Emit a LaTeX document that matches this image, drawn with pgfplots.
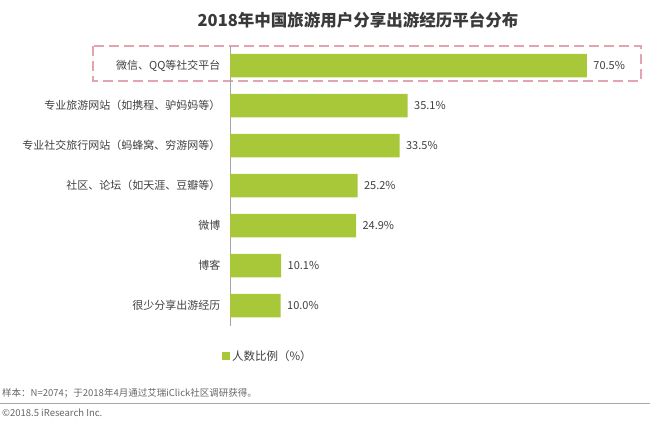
\documentclass[border=0pt]{standalone}
\usepackage{fontspec}
\setmainfont{Noto Sans CJK SC}
\usepackage{pgfplots}
\pgfplotsset{compat=1.18}
\definecolor{barc}{HTML}{A8C83A}
\definecolor{boxc}{HTML}{E3A3AF}
\definecolor{txt}{HTML}{404040}
\definecolor{note}{HTML}{666666}
\begin{document}
\begin{tikzpicture}
\useasboundingbox (0,0) rectangle (650pt,-422pt);
\node[font=\fontsize{16.5}{18}\selectfont\bfseries, text=txt!90!black] at (358pt,-20pt) {2018年中国旅游用户分享出游经历平台分布};
\draw[boxc, line width=1.8pt, dash pattern=on 10pt off 5pt] (93pt,-46pt) rectangle (641pt,-81pt);
\begin{axis}[
  at={(230pt,-45.5pt)}, anchor=north west,
  scale only axis, width=405pt, height=280pt,
  xmin=0, xmax=80, ymin=-0.5, ymax=6.5, y dir=reverse,
  enlargelimits=false, clip=false,
  axis x line=none, axis y line*=left,
  y axis line style={draw=gray!70, line width=0.7pt, -},
  ytick={0,1,2,3,4,5,6},
  yticklabels={微信、QQ等社交平台, 专业旅游网站（如携程、驴妈妈等）, 专业社交旅行网站（蚂蜂窝、穷游网等）, 社区、论坛（如天涯、豆瓣等）, 微博, 博客, 很少分享出游经历},
  major tick length=0pt,
  yticklabel style={font=\fontsize{11}{13}\selectfont, text=txt, xshift=-6pt},
  xbar, bar width=23.5pt,
  point meta=x,
  /pgf/number format/assume math mode=true,
  nodes near coords={\pgfmathprintnumber[fixed,fixed zerofill,precision=1,assume math mode=true]{\pgfplotspointmeta}\%},
  nodes near coords style={font=\fontsize{11}{13}\selectfont, text=txt, anchor=west, xshift=3pt},
  legend style={at={(-0.02,-0.109)}, anchor=west, draw=none, fill=none, inner sep=0pt,
    font=\fontsize{11.5}{13}\selectfont, text=txt},
  legend image code/.code={\fill[barc] (0pt,-4pt) rectangle (8pt,4pt);},
]
\addplot[fill=barc, draw=none] coordinates {(70.5,0) (35.1,1) (33.5,2) (25.2,3) (24.9,4) (10.1,5) (10.0,6)};
\addlegendentry{人数比例（\%）}
\end{axis}
\node[anchor=west, font=\fontsize{9.5}{11}\selectfont, text=note, inner sep=0pt] at (2pt,-393pt) {样本：N=2074；于2018年4月通过艾瑞iClick社区调研获得。};
\draw[gray!70, line width=0.8pt] (0pt,-403pt) -- (650pt,-403pt);
\node[anchor=west, font=\fontsize{9.5}{11}\selectfont, text=note, inner sep=0pt] at (2pt,-413pt) {©2018.5 iResearch Inc.};
\end{tikzpicture}
\end{document}
